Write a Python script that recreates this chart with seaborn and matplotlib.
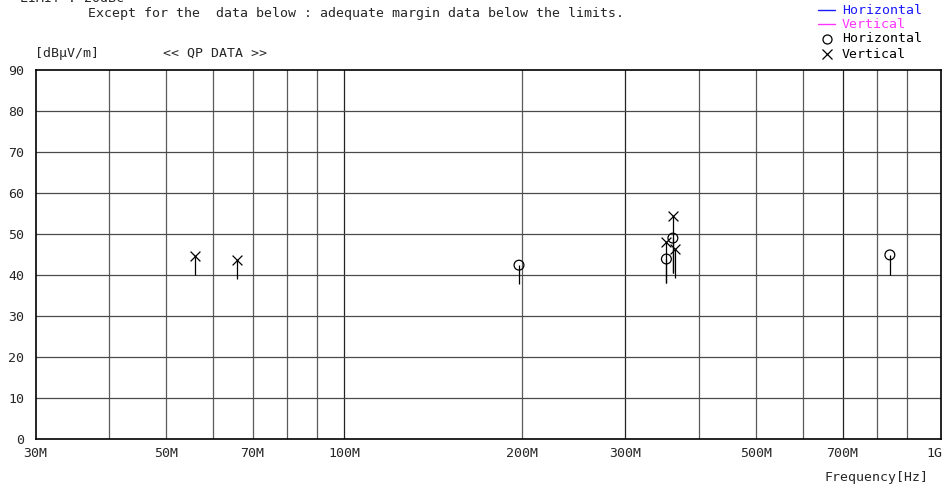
import numpy as np
import pandas as pd
import matplotlib
matplotlib.use('Agg')
import matplotlib.pyplot as plt
import seaborn as sns

# QP data (frequency in MHz, level in dBuV/m)
h_freq = [198, 352, 361, 842]
h_level = [42.4, 43.9, 49.0, 44.9]
h_stem_low = [37.8, 38.0, 40.5, 40.0]

v_freq = [55.9, 65.9, 352, 361, 364]
v_level = [44.6, 43.7, 48.0, 54.4, 46.3]
v_stem_low = [40.0, 39.0, 38.0, 40.5, 39.3]

major_ticks = [30, 50, 70, 100, 200, 300, 500, 700, 1000]
major_labels = ['30M', '50M', '70M', '100M', '200M', '300M', '500M', '700M', '1G']
grid_freqs = [40, 50, 60, 70, 80, 90, 100, 200, 300, 400, 500, 600, 700, 800, 900]

df = pd.DataFrame({
    'freq': h_freq + v_freq,
    'level': h_level + v_level,
    'low': h_stem_low + v_stem_low,
    'pol': ['Horizontal'] * len(h_freq) + ['Vertical'] * len(v_freq),
})

sns.set_style('white')
plt.rcParams['font.family'] = ['DejaVu Sans Mono']
plt.rcParams['font.size'] = 9

fig = plt.figure(figsize=(9.44, 4.87), dpi=100)
ax = fig.add_axes([35.5 / 944, 1 - 439 / 487, 905.5 / 944, 369 / 487])
ax.set_xscale('log')
ax.set_xlim(30, 1028)
ax.set_ylim(0, 90)

# grid
for f in grid_freqs:
    ax.axvline(f, color='#222222' if f in (100, 300, 700) else '#5a5a5a', lw=0.9, zorder=1)
for y in range(10, 90, 10):
    ax.axhline(y, color='#4a4a4a', lw=0.9, zorder=1)

# stems below each marker
ax.vlines(df['freq'], df['low'], df['level'], color='black', lw=0.9, zorder=2)

sns.scatterplot(data=df[df['pol'] == 'Horizontal'], x='freq', y='level', ax=ax,
                marker='o', s=50, facecolor='none', edgecolor='black', linewidth=0.9,
                legend=False, zorder=3)
sns.scatterplot(data=df[df['pol'] == 'Vertical'], x='freq', y='level', ax=ax,
                marker='x', s=50, color='black', linewidth=0.9, legend=False, zorder=3)

ax.set_xticks(major_ticks)
ax.set_xticklabels(major_labels)
ax.xaxis.set_minor_locator(matplotlib.ticker.NullLocator())
ax.set_yticks(range(0, 91, 10))
ax.tick_params(length=0, labelsize=9.5, pad=6)
ax.tick_params(axis='y', pad=8)
ax.set_xlabel('')
ax.set_ylabel('')
for s in ax.spines.values():
    s.set_color('black')
    s.set_linewidth(1.2)

# texts
fig.text(20 / 944, 1 - (-2) / 487, 'LIMIT : 20dBc', fontsize=9.5, va='center')
fig.text(88 / 944, 1 - 14 / 487,
         'Except for the  data below : adequate margin data below the limits.',
         fontsize=9.5, va='center')
fig.text(35 / 944, 1 - 53 / 487, '[dB\u03bcV/m]', fontsize=9.5, va='center')
fig.text(163 / 944, 1 - 53 / 487, '<< QP DATA >>', fontsize=9.5, va='center')
fig.text(928 / 944, 1 - 477 / 487, 'Frequency[Hz]', fontsize=9.5, va='center', ha='right')

# legend block top right
leg_rows = [(10, 'line', '#1a1aff', 'Horizontal'),
            (24, 'line', '#ff33ff', 'Vertical'),
            (39, 'o', 'black', 'Horizontal'),
            (54, 'x', 'black', 'Vertical')]
for ypx, kind, col, label in leg_rows:
    yf = 1 - ypx / 487
    if kind == 'line':
        fig.add_artist(matplotlib.lines.Line2D([818 / 944, 835 / 944], [yf, yf],
                                               color=col, lw=1))
    else:
        fig.add_artist(matplotlib.lines.Line2D([827 / 944], [yf], marker=kind,
                                               markersize=6.5, markerfacecolor='none',
                                               markeredgecolor='black', lw=0,
                                               markeredgewidth=0.9))
    fig.text(842 / 944, yf, label, color=col, fontsize=9.5, va='center')

fig.savefig('out.png', dpi=100)
